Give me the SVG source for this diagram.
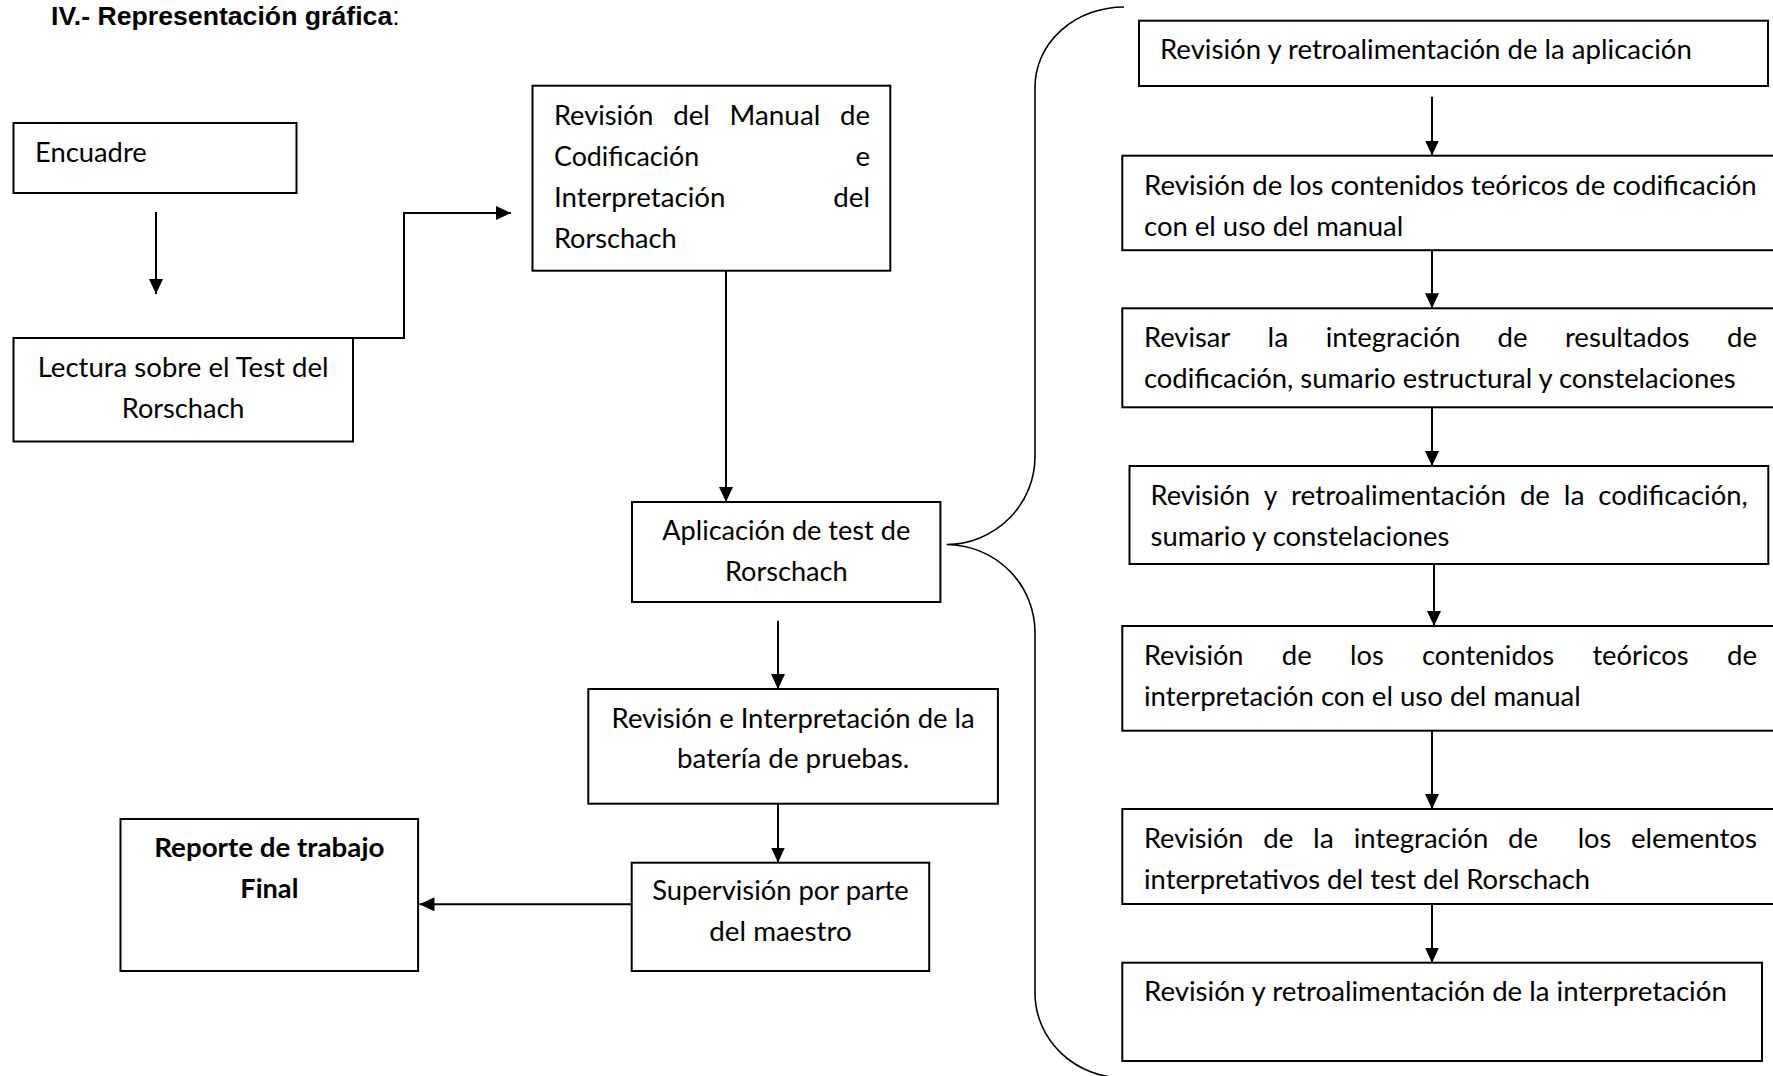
<svg xmlns="http://www.w3.org/2000/svg" width="1773" height="1076" viewBox="0 0 1773 1076">
<style>
.bg{fill:#fff}
.box{fill:#fff;stroke:#000;stroke-width:2}
.t{font-family:Lato,"Open Sans","Liberation Sans",sans-serif;font-size:27px;fill:#000}
.b{font-weight:bold}
.ln{fill:none;stroke:#000;stroke-width:2}
.brace{fill:none;stroke:#000;stroke-width:1.6}
.title{font-family:"Liberation Sans",Arial,sans-serif;font-size:26.67px;fill:#000}
</style>
<defs>
<marker id="ah" markerUnits="userSpaceOnUse" markerWidth="16" markerHeight="16" refX="15" refY="7" orient="auto">
<path d="M0,0 L15,7 L0,14 z" fill="#000"/>
</marker>
</defs>
<rect class="bg" x="0" y="0" width="1773" height="1076"/>

<g id="title">
<text class="title" x="51" y="25"><tspan font-weight="bold">IV.- Representación gráfica</tspan>:</text>
</g>

<g id="encuadre">
<rect class="box" x="13.5" y="123" width="283" height="70"/>
<text class="t" x="35" y="162" textLength="111.8" lengthAdjust="spacingAndGlyphs">Encuadre</text>
</g>

<g id="lectura">
<rect class="box" x="13.5" y="338" width="339.5" height="103.5"/>
<text class="t" x="37.7" y="377.3" textLength="290.8" lengthAdjust="spacingAndGlyphs">Lectura sobre el Test del</text>
<text class="t" x="121.8" y="418" textLength="122.7" lengthAdjust="spacingAndGlyphs">Rorschach</text>
</g>

<g id="manual">
<rect class="box" x="532.5" y="85.7" width="357.8" height="185"/>
<text class="t" x="554" y="124.5" textLength="99.5" lengthAdjust="spacingAndGlyphs">Revisión</text>
<text class="t" x="673.2" y="124.5" textLength="36.7" lengthAdjust="spacingAndGlyphs">del</text>
<text class="t" x="729.6" y="124.5" textLength="90.7" lengthAdjust="spacingAndGlyphs">Manual</text>
<text class="t" x="840" y="124.5" textLength="30" lengthAdjust="spacingAndGlyphs">de</text>
<text class="t" x="554" y="165.7" textLength="145.2" lengthAdjust="spacingAndGlyphs">Codificación</text>
<text class="t" x="855.4" y="165.7" textLength="14.6" lengthAdjust="spacingAndGlyphs">e</text>
<text class="t" x="554" y="206.9" textLength="171.5" lengthAdjust="spacingAndGlyphs">Interpretación</text>
<text class="t" x="833.3" y="206.9" textLength="36.7" lengthAdjust="spacingAndGlyphs">del</text>
<text class="t" x="554" y="248.1" textLength="122.7" lengthAdjust="spacingAndGlyphs">Rorschach</text>
</g>

<g id="aplicacion">
<rect class="box" x="632" y="502" width="308.4" height="100"/>
<text class="t" x="662.3" y="540.4" textLength="247.9" lengthAdjust="spacingAndGlyphs">Aplicación de test de</text>
<text class="t" x="724.9" y="581.4" textLength="122.7" lengthAdjust="spacingAndGlyphs">Rorschach</text>
</g>

<g id="revision-interpretacion">
<rect class="box" x="588.3" y="689" width="409.6" height="114.7"/>
<text class="t" x="611.6" y="727.7" textLength="363" lengthAdjust="spacingAndGlyphs">Revisión e Interpretación de la</text>
<text class="t" x="677.1" y="768" textLength="232.1" lengthAdjust="spacingAndGlyphs">batería de pruebas.</text>
</g>

<g id="supervision">
<rect class="box" x="631.7" y="862.7" width="297.5" height="108.3"/>
<text class="t" x="652.2" y="900" textLength="256.6" lengthAdjust="spacingAndGlyphs">Supervisión por parte</text>
<text class="t" x="709.3" y="941.3" textLength="142.4" lengthAdjust="spacingAndGlyphs">del maestro</text>
</g>

<g id="reporte">
<rect class="box" x="120.5" y="819" width="297.6" height="152"/>
<text class="t b" x="154.2" y="856.7" textLength="230.2" lengthAdjust="spacingAndGlyphs">Reporte de trabajo</text>
<text class="t b" x="240.3" y="897.7" textLength="58.1" lengthAdjust="spacingAndGlyphs">Final</text>
</g>

<g id="r1">
<rect class="box" x="1139" y="20.7" width="629" height="65.3"/>
<text class="t" x="1160" y="58.5" textLength="531.8" lengthAdjust="spacingAndGlyphs">Revisión y retroalimentación de la aplicación</text>
</g>

<g id="r2">
<rect class="box" x="1122.3" y="155.7" width="660" height="94.5"/>
<text class="t" x="1144" y="194.5" textLength="612.7" lengthAdjust="spacingAndGlyphs">Revisión de los contenidos teóricos de codificación</text>
<text class="t" x="1144" y="235.5" textLength="259.2" lengthAdjust="spacingAndGlyphs">con el uso del manual</text>
</g>

<g id="r3">
<rect class="box" x="1122.3" y="308.3" width="660" height="99"/>
<text class="t" x="1144" y="346.5" textLength="86.3" lengthAdjust="spacingAndGlyphs">Revisar</text>
<text class="t" x="1267.6" y="346.5" textLength="20.8" lengthAdjust="spacingAndGlyphs">la</text>
<text class="t" x="1325.7" y="346.5" textLength="134.6" lengthAdjust="spacingAndGlyphs">integración</text>
<text class="t" x="1497.6" y="346.5" textLength="30" lengthAdjust="spacingAndGlyphs">de</text>
<text class="t" x="1564.9" y="346.5" textLength="124.6" lengthAdjust="spacingAndGlyphs">resultados</text>
<text class="t" x="1727" y="346.5" textLength="30" lengthAdjust="spacingAndGlyphs">de</text>
<text class="t" x="1144" y="387.7" textLength="591.5" lengthAdjust="spacingAndGlyphs">codificación, sumario estructural y constelaciones</text>
</g>

<g id="r4">
<rect class="box" x="1129.5" y="466" width="638.8" height="98"/>
<text class="t" x="1150.6" y="504.7" textLength="99.5" lengthAdjust="spacingAndGlyphs">Revisión</text>
<text class="t" x="1263.9" y="504.7" textLength="13.3" lengthAdjust="spacingAndGlyphs">y</text>
<text class="t" x="1291" y="504.7" textLength="215.1" lengthAdjust="spacingAndGlyphs">retroalimentación</text>
<text class="t" x="1519.9" y="504.7" textLength="30" lengthAdjust="spacingAndGlyphs">de</text>
<text class="t" x="1563.7" y="504.7" textLength="20.8" lengthAdjust="spacingAndGlyphs">la</text>
<text class="t" x="1598.3" y="504.7" textLength="149.4" lengthAdjust="spacingAndGlyphs">codificación,</text>
<text class="t" x="1150.6" y="545.5" textLength="298.7" lengthAdjust="spacingAndGlyphs">sumario y constelaciones</text>
</g>

<g id="r5">
<rect class="box" x="1122.3" y="626" width="660" height="104.7"/>
<text class="t" x="1144" y="665" textLength="99.5" lengthAdjust="spacingAndGlyphs">Revisión</text>
<text class="t" x="1281.8" y="665" textLength="30" lengthAdjust="spacingAndGlyphs">de</text>
<text class="t" x="1350.1" y="665" textLength="33.6" lengthAdjust="spacingAndGlyphs">los</text>
<text class="t" x="1422" y="665" textLength="132.1" lengthAdjust="spacingAndGlyphs">contenidos</text>
<text class="t" x="1592.4" y="665" textLength="96.2" lengthAdjust="spacingAndGlyphs">teóricos</text>
<text class="t" x="1727" y="665" textLength="30" lengthAdjust="spacingAndGlyphs">de</text>
<text class="t" x="1144" y="706" textLength="436.7" lengthAdjust="spacingAndGlyphs">interpretación con el uso del manual</text>
</g>

<g id="r6">
<rect class="box" x="1122.3" y="809" width="660" height="95"/>
<text class="t" x="1144" y="848.3" textLength="99.5" lengthAdjust="spacingAndGlyphs">Revisión</text>
<text class="t" x="1263.3" y="848.3" textLength="30" lengthAdjust="spacingAndGlyphs">de</text>
<text class="t" x="1313.1" y="848.3" textLength="20.8" lengthAdjust="spacingAndGlyphs">la</text>
<text class="t" x="1353.7" y="848.3" textLength="134.6" lengthAdjust="spacingAndGlyphs">integración</text>
<text class="t" x="1508.1" y="848.3" textLength="30" lengthAdjust="spacingAndGlyphs">de</text>
<text class="t" x="1577.7" y="848.3" textLength="33.6" lengthAdjust="spacingAndGlyphs">los</text>
<text class="t" x="1630.9" y="848.3" textLength="126.1" lengthAdjust="spacingAndGlyphs">elementos</text>
<text class="t" x="1144" y="888.8" textLength="446.1" lengthAdjust="spacingAndGlyphs">interpretativos del test del Rorschach</text>
</g>

<g id="r7">
<rect class="box" x="1122.3" y="962.7" width="639.7" height="98.3"/>
<text class="t" x="1144" y="1001" textLength="582.8" lengthAdjust="spacingAndGlyphs">Revisión y retroalimentación de la interpretación</text>
</g>

<g id="connectors">
<line class="ln" x1="156" y1="212" x2="156" y2="294" marker-end="url(#ah)"/>
<polyline class="ln" points="295,338 404,338 404,213 511,213" marker-end="url(#ah)"/>
<line class="ln" x1="726" y1="270.7" x2="726" y2="502" marker-end="url(#ah)"/>
<line class="ln" x1="778" y1="620.7" x2="778" y2="689" marker-end="url(#ah)"/>
<line class="ln" x1="778" y1="803.7" x2="778" y2="862.5" marker-end="url(#ah)"/>
<line class="ln" x1="631.7" y1="904.3" x2="419.5" y2="904.3" marker-end="url(#ah)"/>
<line class="ln" x1="1432" y1="96.7" x2="1432" y2="155.5" marker-end="url(#ah)"/>
<line class="ln" x1="1432" y1="250.2" x2="1432" y2="308.3" marker-end="url(#ah)"/>
<line class="ln" x1="1432" y1="407.3" x2="1432" y2="466" marker-end="url(#ah)"/>
<line class="ln" x1="1434" y1="564" x2="1434" y2="626" marker-end="url(#ah)"/>
<line class="ln" x1="1432" y1="730.7" x2="1432" y2="809" marker-end="url(#ah)"/>
<line class="ln" x1="1432" y1="904" x2="1432" y2="962.7" marker-end="url(#ah)"/>
<path class="brace" d="M1124,7 A89,80 0 0 0 1035,87 L1035,456.7 A89,88 0 0 1 946.7,544.5 A89,88 0 0 1 1035,632.5 L1035,993 A89,85 0 0 0 1124,1078"/>
</g>
</svg>
